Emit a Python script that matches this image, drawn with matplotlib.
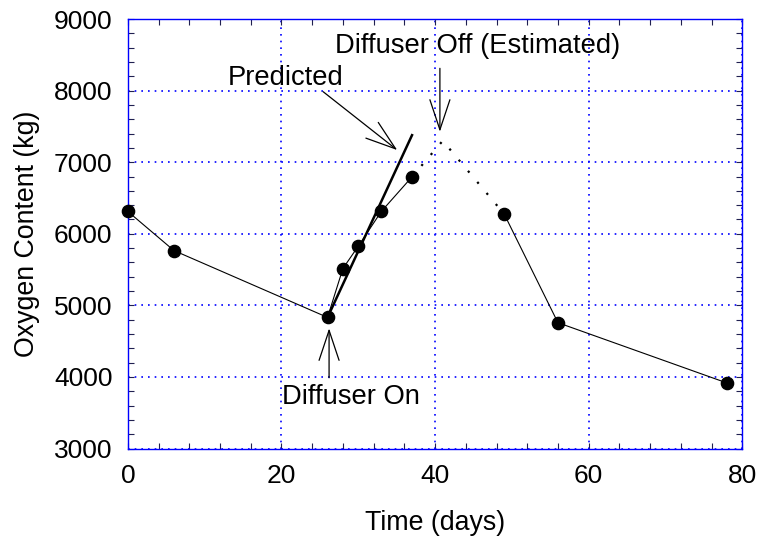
import matplotlib
matplotlib.use("Agg")
import matplotlib.pyplot as plt
from matplotlib.ticker import MultipleLocator

plt.rcParams['font.family'] = ['Liberation Sans', 'DejaVu Sans']

# measured oxygen content
days = [0, 6, 26, 28, 30, 33, 37, 49, 56, 78]
oxygen = [6312, 5766, 4832, 5515, 5827, 6312, 6796, 6276, 4758, 3916]

# predicted rise after diffuser switched on
pred_days = [26, 37]
pred_oxygen = [4832, 7378]

# estimated peak when diffuser switched off
est_days = [37, 41, 49]
est_oxygen = [6796, 7300, 6276]

fig = plt.figure(figsize=(7.61, 5.45), dpi=100)
ax = fig.add_axes([0.168, 0.177, 0.8074, 0.788])

blue = '#0000ff'
ax.grid(True, which='major', color=blue, linestyle=(0, (1, 3)), linewidth=1.2)
ax.set_axisbelow(True)

ax.plot(days[:7], oxygen[:7], color='black', linewidth=0.8, zorder=3)
ax.plot(days[7:], oxygen[7:], color='black', linewidth=0.8, zorder=3)
ax.plot(est_days, est_oxygen, color='black', linewidth=1.6, linestyle=(0, (1, 5.5)), zorder=3)
ax.plot(pred_days, pred_oxygen, color='black', linewidth=1.8, zorder=3)
ax.plot(days, oxygen, linestyle='none', marker='o', markersize=8.8, color='black',
        clip_on=False, zorder=4)

ax.set_xlim(0, 80)
ax.set_ylim(3000, 9000)
ax.xaxis.set_major_locator(MultipleLocator(20))
ax.xaxis.set_minor_locator(MultipleLocator(4))
ax.yaxis.set_major_locator(MultipleLocator(1000))
ax.yaxis.set_minor_locator(MultipleLocator(200))
ax.tick_params(which='both', direction='in', top=True, right=True, length=4,
               width=0.8, color='#202050')
ax.tick_params(axis='x', which='major', pad=11, labelsize=19)
ax.tick_params(axis='y', which='major', pad=11, labelsize=19)
for s in ax.spines.values():
    s.set_color(blue)
    s.set_linewidth(1.0)

ax.set_xlabel('Time (days)', fontsize=19.3, labelpad=16)
ax.set_ylabel('Oxygen Content (kg)', fontsize=19.3, labelpad=10)

arrow = dict(arrowstyle='->,head_length=1.08,head_width=0.36', color='black',
             linewidth=0.9, mutation_scale=20, shrinkA=0, shrinkB=0)

ax.text(29.0, 3622, 'Diffuser On', fontsize=19.7, ha='center', va='baseline')
ax.annotate('', xy=(26.2, 4679), xytext=(26.2, 3989), arrowprops=arrow)

ax.text(45.5, 8521, 'Diffuser Off (Estimated)', fontsize=19.7, ha='center', va='baseline')
ax.annotate('', xy=(40.63, 7426), xytext=(40.63, 8312), arrowprops=arrow)

ax.text(20.6, 8078, 'Predicted', fontsize=19.7, ha='center', va='baseline')
ax.annotate('', xy=(35.07, 7170), xytext=(25.43, 7985), arrowprops=arrow)

fig.savefig('out.png', dpi=100)
